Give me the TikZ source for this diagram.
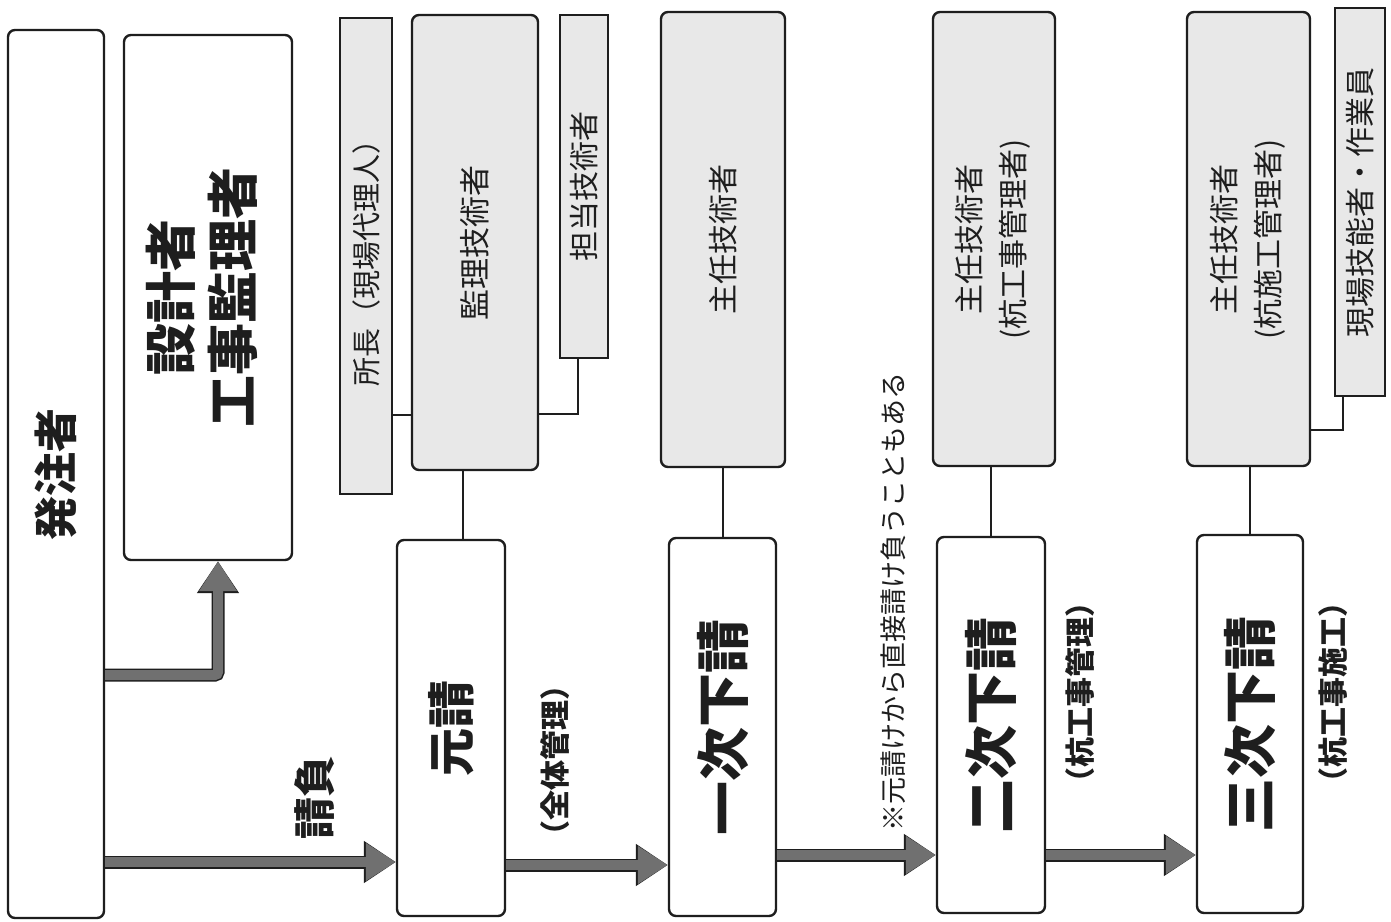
\documentclass[tikz,border=0pt]{standalone}
\usepackage{fontspec}
\newfontfamily\jp{Noto Sans CJK JP}
\usetikzlibrary{arrows.meta}
\definecolor{boxgray}{HTML}{E8E8E8}
\definecolor{arrowgray}{HTML}{707070}
\definecolor{ink}{HTML}{1E1E1E}
\newcommand{\fs}[1]{\fontsize{#1}{#1}\selectfont}
\begin{document}
\begin{tikzpicture}[x=1pt,y=-1pt,
  box/.style={draw=ink,line width=2.4pt,fill=white,rounded corners=7pt,inner sep=0pt,text=ink,font=\jp},
  graybox/.style={box,fill=boxgray},
  sqbox/.style={graybox,sharp corners},
  link/.style={draw=ink,line width=2pt},
  lbl/.style={text=ink,font=\jp,inner sep=0pt},
  fat/.style={draw=arrowgray,line width=10pt,-{Triangle[length=30pt,width=36pt]},
    preaction={draw=ink,line width=13pt,-{Triangle[length=32pt,width=40pt]}}},
]
\useasboundingbox (0,0) rectangle (1391,921);
\fill[white] (0,0) rectangle (1391,921);

% top row
\node[box,minimum width=96,minimum height=888] (hatchu) at (56,474)
  {\rotatebox{90}{\bfseries\fs{44}発注者}};
\node[box,minimum width=168,minimum height=525] (sekkei) at (208,297.5)
  {\rotatebox{90}{\bfseries\fontsize{52}{60}\selectfont\begin{tabular}{@{}c@{}}設計者\\工事監理者\end{tabular}}};
\node[sqbox,minimum width=52,minimum height=476] (shocho) at (366,256)
  {\rotatebox{90}{\fs{29}所長（現場代理人）}};
\node[graybox,minimum width=126,minimum height=455] (kanri) at (475,242.5)
  {\rotatebox{90}{\fs{31}監理技術者}};
\node[sqbox,minimum width=48,minimum height=343] (tanto) at (584,186.5)
  {\rotatebox{90}{\fs{30}担当技術者}};
\node[graybox,minimum width=124,minimum height=455] (shunin1) at (723,239.5)
  {\rotatebox{90}{\fs{30}主任技術者}};
\node[graybox,minimum width=122,minimum height=454] (shunin2) at (994,239)
  {\rotatebox{90}{\fontsize{30}{44}\selectfont\begin{tabular}{@{}c@{}}主任技術者\\(杭工事管理者)\end{tabular}}};
\node[graybox,minimum width=123,minimum height=454] (shunin3) at (1248.5,239)
  {\rotatebox{90}{\fontsize{30}{44}\selectfont\begin{tabular}{@{}c@{}}主任技術者\\(杭施工管理者)\end{tabular}}};
\node[sqbox,minimum width=50,minimum height=388] (genba) at (1360,202)
  {\rotatebox{90}{\fs{30}現場技能者・作業員}};

% bottom row
\node[box,minimum width=108,minimum height=376] (motouke) at (451,728)
  {\rotatebox{90}{\bfseries\fs{48}元請}};
\node[box,minimum width=107,minimum height=378] (ichiji) at (722.5,727)
  {\rotatebox{90}{\bfseries\fs{54}一次下請}};
\node[box,minimum width=108,minimum height=376] (niji) at (991,725)
  {\rotatebox{90}{\bfseries\fs{54}二次下請}};
\node[box,minimum width=106,minimum height=378] (sanji) at (1250,724)
  {\rotatebox{90}{\bfseries\fs{54}三次下請}};

% labels
\node[lbl,rotate=90] (ukeoi) at (315,797) {\bfseries\fs{42}請負};
\node[lbl,rotate=90] (zentai) at (555,760) {\bfseries\fs{30}（全体管理）};
\node[lbl,rotate=90] (kuikanri) at (1080,692) {\bfseries\fs{30}（杭工事管理）};
\node[lbl,rotate=90] (kuisekou) at (1333,692) {\bfseries\fs{30}（杭工事施工）};
\node[lbl,rotate=90] (note) at (893,602) {\fs{27}※元請けから直接請け負うこともある};

% thin connectors
\coordinate (yA) at (0,415);
\coordinate (yB) at (0,414);
\coordinate (xB) at (578,0);
\coordinate (xK) at (463,0);
\coordinate (yG) at (0,430);
\coordinate (xG) at (1343,0);
\draw[link] (shocho.east |- yA) -- (kanri.west |- yA);
\draw[link] (kanri.east |- yB) -- (xB |- yB) -- (xB |- tanto.south);
\draw[link] (kanri.south -| xK) -- (motouke.north -| xK);
\draw[link] (shunin1.south) -- (shunin1.south |- ichiji.north);
\draw[link] (shunin2.south -| niji.north) -- (niji.north);
\draw[link] (shunin3.south -| sanji.north) -- (sanji.north);
\draw[link] (shunin3.east |- yG) -- (xG |- yG) -- (xG |- genba.south);

% fat arrows
\coordinate (y1) at (0,862);
\coordinate (y2) at (0,675);
\coordinate (x2) at (218,0);
\coordinate (y3) at (0,865);
\coordinate (y4) at (0,855);
\draw[fat] (hatchu.east |- y1) -- (motouke.west |- y1);
\draw[fat,rounded corners=3pt] (hatchu.east |- y2) -- (x2 |- y2) -- (x2 |- sekkei.south);
\draw[fat] (motouke.east |- y3) -- (ichiji.west |- y3);
\draw[fat] (ichiji.east |- y4) -- (niji.west |- y4);
\draw[fat] (niji.east |- y4) -- (sanji.west |- y4);
\end{tikzpicture}
\end{document}
